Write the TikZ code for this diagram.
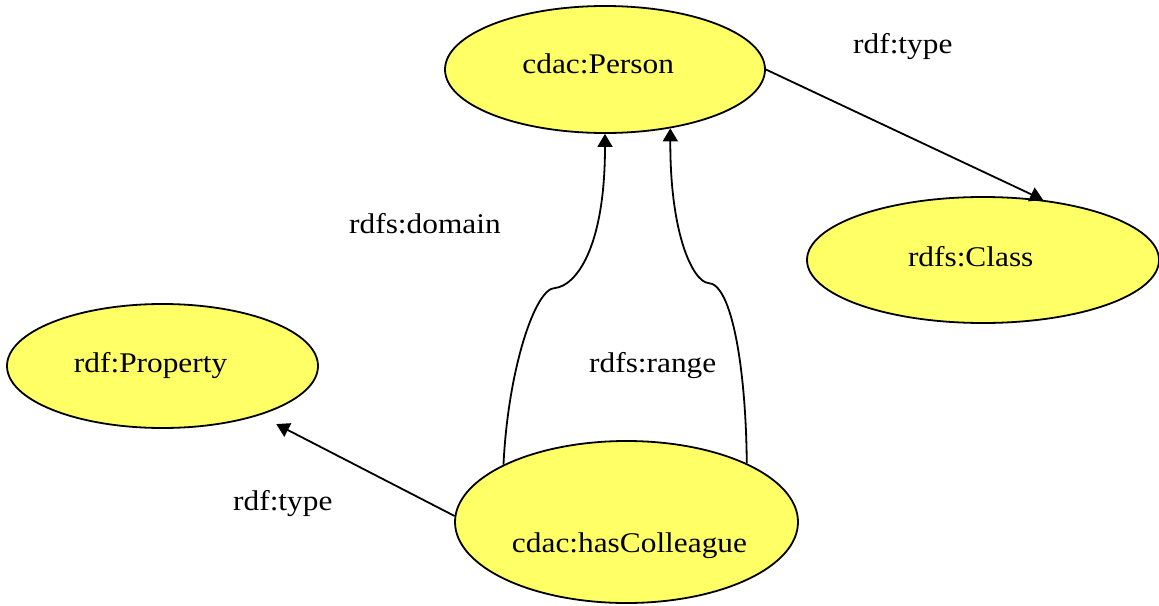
\documentclass[tikz,border=0pt]{standalone}
\usepackage{fontspec}
\setmainfont{Liberation Serif}[FakeStretch=1.1]
\usetikzlibrary{arrows.meta,shapes.geometric}
\definecolor{nodeyellow}{RGB}{255,255,102}
\newcommand\placetext[3]{\kern#1\raisebox{#2}{#3}}
\begin{document}
\begin{tikzpicture}[x=1pt,y=-1pt,
  every node/.style={font=\fontsize{28.5pt}{34pt}\selectfont},
  res/.style={ellipse,draw=black,fill=nodeyellow,line width=1.8pt,inner sep=0pt,
    text height=0pt,text depth=0pt},
  lbl/.style={anchor=base west,inner sep=0pt},
  edge/.style={line width=1.8pt,-{Triangle[length=13pt,width=15pt]}}]
\useasboundingbox (0,0) rectangle (1159,605);

\node[res,minimum width=320pt,minimum height=127pt] (person) at (605,69.5)
  {\placetext{-13.6pt}{-3.8pt}{cdac:Person}};
\node[res,minimum width=352pt,minimum height=126pt] (class) at (983,260)
  {\placetext{-24.6pt}{-6pt}{rdfs:Class}};
\node[res,minimum width=311pt,minimum height=124pt] (prop) at (162.5,366)
  {\placetext{-23.8pt}{-6.7pt}{rdf:Property}};
\node[res,minimum width=343pt,minimum height=162pt] (hc) at (626.5,522)
  {\placetext{6pt}{-30pt}{cdac:hasColleague}};

\coordinate (dk) at (555,288);
\coordinate (rk) at (708,283);

\draw[edge] (person.east) -- (class.45);
\draw[edge,shorten >=19pt] (hc.178) -- (prop.-27);
\draw[edge] (hc.155) .. controls (508,370) and (535,288) .. (dk)
  .. controls (575,286) and (605,250) .. (person.south);
\draw[edge] (hc.26) .. controls (746,370) and (732,283) .. (rk)
  .. controls (693,281) and (670,235) .. (person.-42);

\node[lbl] (l1) at (853,53) {rdf:type};
\node[lbl] (l2) at (349,233) {rdfs:domain};
\node[lbl] (l3) at (589,372) {rdfs:range};
\node[lbl] (l4) at (233,510) {rdf:type};
\end{tikzpicture}
\end{document}
